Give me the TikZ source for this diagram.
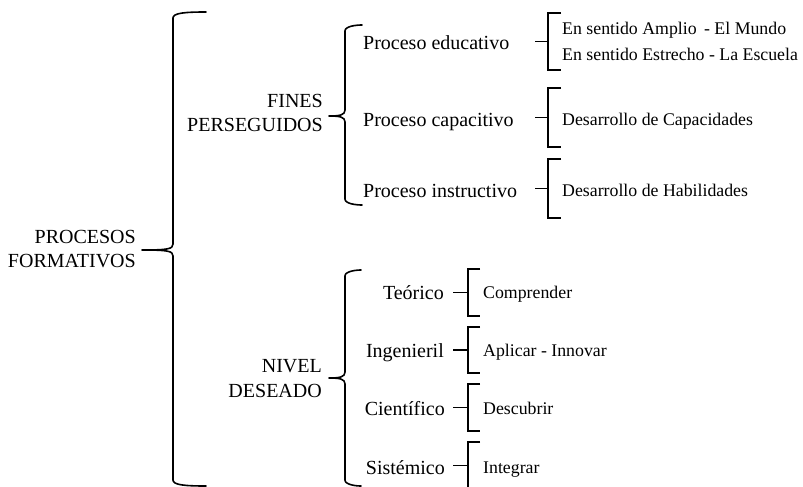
\documentclass[tikz,border=0pt]{standalone}
\usepackage{fontspec}
\setmainfont{Liberation Serif}
\newfontfamily\tnr{Liberation Serif}
\newcommand\mybrace[7]{% #1 name, #2 vertical x, #3 top y, #4 bottom y, #5 tip x, #6 tip y, #7 arm x
  \coordinate (#1tip) at (#5,#6);
  \coordinate (#1top) at (#7,#3);
  \coordinate (#1bot) at (#7,#4);
  \draw[brc] (#1top) .. controls ({#2+12},#3) and (#2,{#3+1}) .. (#2,{#3+6})
    -- (#2,{#6-6}) .. controls (#2,{#6-1}) and ({#2-5},#6) .. (#1tip)
    .. controls ({#2-5},#6) and (#2,{#6+1}) .. (#2,{#6+6})
    -- (#2,{#4-6}) .. controls (#2,{#4-1}) and ({#2+12},#4) .. (#1bot);}
\newcommand\mysq[6]{% #1 name, #2 dash start x, #3 vertical x, #4 arm x, #5 top y, #6 bottom y
  \coordinate (#1a) at (#2,{(#5+#6)/2});
  \coordinate (#1b) at (#3,{(#5+#6)/2});
  \coordinate (#1t) at (#4,#5);
  \coordinate (#1u) at (#4,#6);
  \draw[brk] (#1t) -| (#3,#6) -- (#1u);
  \draw[brk] (#1a) -- (#1b);}
\begin{document}
\begin{tikzpicture}[x=1pt,y=-1pt,
  big/.style={font=\tnr\fontsize{20}{24}\selectfont, inner sep=0pt},
  small/.style={font=\tnr\fontsize{17.8}{21}\selectfont, inner sep=0pt},
  brk/.style={line width=1.6pt, line join=miter},
  brc/.style={line width=1.6pt, line cap=round, line join=round}]
\useasboundingbox (0,0) rectangle (803,487);
% level 0
\node[big,anchor=base east] (pro1) at (136,243) {PROCESOS};
\node[big,anchor=base east] (pro2) at (136,267) {FORMATIVOS};
% level 1
\node[big,anchor=base east] (fin1) at (323,107) {FINES};
\node[big,anchor=base east] (fin2) at (323,131) {PERSEGUIDOS};
\node[big,anchor=base east] (niv1) at (322,372) {NIVEL};
\node[big,anchor=base east] (niv2) at (322,397) {DESEADO};
% level 2 (fines)
\node[big,anchor=base west] (edu) at (363,50) {Proceso educativo};
\node[big,anchor=base west] (cap) at (363,126) {Proceso capacitivo};
\node[big,anchor=base west] (ins) at (363,197) {Proceso instructivo};
% level 3 (fines)
\node[small,anchor=base west] (amp) at (562,35) {En sentido Amplio \,- El Mundo};
\node[small,anchor=base west] (est) at (562,60) {En sentido Estrecho - La Escuela};
\node[small,anchor=base west] (dcap) at (562,125) {Desarrollo de Capacidades};
\node[small,anchor=base west] (dhab) at (562,196) {Desarrollo de Habilidades};
% level 2 (nivel)
\node[big,anchor=base east] (teo) at (444,299) {Teórico};
\node[big,anchor=base east] (ing) at (444,357) {Ingenieril};
\node[big,anchor=base east] (cie) at (445,415) {Científico};
\node[big,anchor=base east] (sis) at (445,474) {Sistémico};
% level 3 (nivel)
\node[small,anchor=base west] (com) at (483,298) {Comprender};
\node[small,anchor=base west] (apl) at (483,356) {Aplicar - Innovar};
\node[small,anchor=base west] (des) at (483,414) {Descubrir};
\node[small,anchor=base west] (int) at (483,473) {Integrar};
% braces
\mybrace{b0}{173}{12}{486}{142}{250}{206}
\mybrace{b1}{345}{25}{205}{329}{116}{362}
\mybrace{b2}{345}{270}{486}{329}{378}{361}
% square brackets
\mysq{s1}{535}{548}{561}{13}{70}
\mysq{s2}{535}{548}{561}{88}{147}
\mysq{s3}{535}{548}{561}{159}{218}
\mysq{s4}{453}{468}{480}{269}{316}
\mysq{s5}{453}{468}{480}{327}{373}
\mysq{s6}{453}{468}{480}{384}{431}
\mysq{s7}{453}{468}{480}{442}{489}
\end{tikzpicture}
\end{document}
